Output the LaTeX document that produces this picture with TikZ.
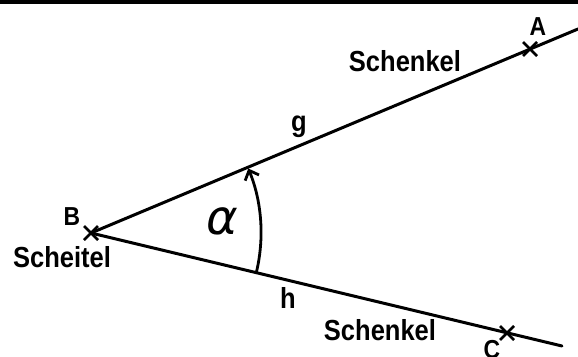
\documentclass[tikz,border=0pt]{standalone}
\usepackage{fontspec}
\setmainfont{Liberation Sans}[FakeStretch=0.88]
\newfontfamily\alphafont{DejaVu Sans}
\usetikzlibrary{arrows.meta}
\tikzset{
  leg/.style={line width=3pt, line cap=round},
  crossmark/.style={line width=2.6pt},
  lbl/.style={inner sep=0pt, font=\bfseries\fontsize{29}{31}\selectfont},
  ptlabel/.style={inner sep=0pt, font=\bfseries\fontsize{26}{28}\selectfont},
}
\begin{document}
\begin{tikzpicture}[x=1pt,y=1pt]
\path[clip] (0,0) rectangle (578,-356);
\useasboundingbox (0,0) rectangle (578,-356);
\fill (0,0) rectangle (578,-4);
\coordinate (B) at (91,-233);
\coordinate (A) at (530,-49);
\coordinate (C) at (507,-333);
\coordinate (gend) at (578,-29);
\coordinate (hend) at (562,-346);
\draw[leg] (B) -- (gend);
\draw[leg] (B) -- (hend);
\foreach \p in {A,B,C}{
  \draw[crossmark] (\p) +(-7,-7) -- +(7,7);
  \draw[crossmark] (\p) +(-7,7) -- +(7,-7);
}
\draw[line width=2.8pt, -{Straight Barb[length=8pt,width=15pt,line width=2.8pt]}]
  ([shift={(-13.49:170)}]B) arc[start angle=-13.49, end angle=22.3, radius=170];
\node[ptlabel] (la) at (538,-27) {A};
\node[ptlabel] (lb) at (72,-217) {B};
\node[ptlabel] (lc) at (492,-350) {C};
\node[lbl] (s1) at (405,-61) {Schenkel};
\node[lbl] (s2) at (380,-330) {Schenkel};
\node[lbl] (sch) at (62,-257) {Scheitel};
\node[lbl, anchor=base] (lg) at (299,-131) {g};
\node[lbl] (lh) at (288,-298) {h};
\node[inner sep=0pt, font=\alphafont\itshape\fontsize{48}{50}\selectfont] (al) at (222,-221) {α};
\end{tikzpicture}
\end{document}
